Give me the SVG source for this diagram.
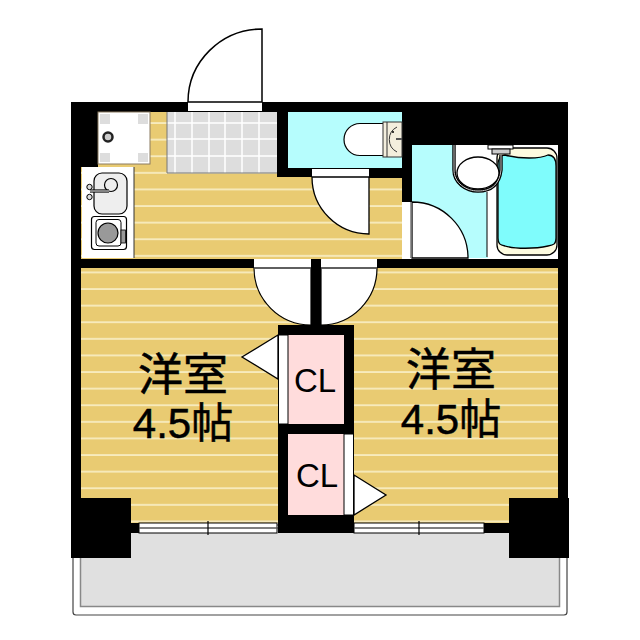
<svg xmlns="http://www.w3.org/2000/svg" width="640" height="640" viewBox="0 0 640 640">
<defs>
<style>
.wall{fill:#000}
.tile{stroke:#fff;stroke-width:1.5;fill:none}
.white{fill:#fff}
.gl{stroke:#555;stroke-width:1.5;fill:none}
.cy{fill:#b6fdfd}
.pink{fill:#ffdcdc}
.jp{font-family:"Noto Sans CJK JP","Liberation Sans",sans-serif;font-size:45px;fill:#000;text-anchor:middle;stroke:#000;stroke-width:.5}
.num{font-family:"Liberation Sans",sans-serif;font-size:42px}
.kan{font-size:42px}
.cl{font-family:"Liberation Sans",sans-serif;font-size:33px;fill:#000;text-anchor:middle}
</style>
<pattern id="stripes" patternUnits="userSpaceOnUse" x="0" y="123" width="20" height="16.6">
<rect width="20" height="16.6" fill="#e9cb72"/>
<rect y="-0.7" width="20" height="1.5" fill="#fbf3cf"/>
<rect y="15.9" width="20" height="1.5" fill="#fbf3cf"/>
</pattern>
</defs>
<rect width="640" height="640" fill="#fff"/>
<g id="balcony">
<rect x="73" y="525" width="494" height="90" rx="3" fill="#fff" stroke="#444" stroke-width="1.2"/>
<rect x="80.500" y="528" width="479" height="78.500" fill="#e0e0e0" stroke="#888" stroke-width="1.500"/>
</g>
<g id="floors">
<rect x="81" y="112" width="321" height="147" fill="url(#stripes)"/>
<rect x="81" y="268" width="477" height="255" fill="url(#stripes)"/>
</g>
<g id="walls" class="wall">
<rect x="71" y="102" width="497" height="10"/>
<rect x="71" y="102" width="10" height="456"/>
<rect x="558" y="102" width="10" height="456"/>
<rect x="71" y="102" width="27" height="65"/>
<rect x="71" y="498" width="60" height="60"/>
<rect x="509" y="498" width="60" height="60"/>
<rect x="71" y="259" width="497" height="9"/>
<rect x="278" y="325" width="76" height="208"/>
<rect x="311" y="259" width="10" height="70"/>
<rect x="277" y="112" width="11" height="64"/>
<rect x="277" y="168" width="125" height="9"/>
<rect x="369" y="168" width="33" height="10"/>
<rect x="402" y="102" width="10" height="100"/>
<rect x="402" y="102" width="166" height="43"/>
<rect x="131" y="523" width="8" height="10"/>
<rect x="484" y="523" width="25" height="10"/>
</g>
<g id="entry">
<rect x="167" y="112" width="110" height="61" fill="#ddd"/>
<path class="tile" d="M175 112V173M192 112V173M209 112V173M225 112V173M242 112V173M259 112V173M167 123H277M167 139H277M167 156H277"/>
<path d="M167 112V173H277" fill="none" stroke="#777" stroke-width="1"/>
<rect x="188" y="102" width="74" height="9" class="white"/>
<path d="M262 102V29A74 73 0 0 0 188 102Z" fill="#fff" stroke="#000" stroke-width="1.500"/>
</g>
<g id="washer">
<rect x="98" y="112" width="52" height="52" fill="#fff" stroke="#8a7a60" stroke-width="1"/>
<rect x="100" y="114" width="10" height="10" fill="#ddd"/>
<rect x="138" y="114" width="10" height="10" fill="#ddd"/>
<rect x="100" y="153" width="10" height="9" fill="#ddd"/>
<rect x="138" y="153" width="10" height="9" fill="#ddd"/>
<circle cx="108" cy="137" r="4.500" fill="#ccc" stroke="#222" stroke-width="2.500"/>
</g>
<g id="kitchen">
<rect x="82" y="167" width="52" height="91" class="white"/>
<path d="M134 167V258" stroke="#333" stroke-width="1"/>
<rect x="94" y="173" width="33" height="41" rx="8" fill="#eee" stroke="#000" stroke-width="1.200"/>
<circle cx="111" cy="185" r="6.500" fill="#eee" stroke="#000" stroke-width="1.200"/>
<path d="M90 191H109" stroke="#000" stroke-width="3.200"/>
<path d="M90 191H109" stroke="#ddd" stroke-width="1.200"/>
<circle cx="89.500" cy="187" r="2.700" fill="#ddd" stroke="#000"/>
<circle cx="89.500" cy="197" r="2.700" fill="#ddd" stroke="#000"/>
<rect x="91.500" y="216.500" width="35" height="33" rx="3" fill="#fff" stroke="#000" stroke-width="1.200"/>
<rect x="96" y="219.500" width="25" height="26.500" rx="3" fill="#fff" stroke="#000" stroke-width="1"/>
<circle cx="108" cy="233" r="10" fill="#999" stroke="#000" stroke-width="1.200"/>
<rect x="121" y="230" width="4.500" height="13" fill="#999" stroke="#000" stroke-width=".8"/>
</g>
<g id="toilet">
<rect class="cy" x="288" y="112" width="114" height="56"/>
<path d="M385 123.500H360A16 16 0 0 0 360 155.500H385Z" fill="#fff" stroke="#000" stroke-width="1.200"/>
<rect x="383" y="122" width="19" height="35" fill="#f3eedd" stroke="#333" stroke-width="1"/>
<path d="M387 122V157" stroke="#333" stroke-width="1"/>
<path d="M397 127A14 14 0 0 0 397 152" fill="none" stroke="#333" stroke-width="1"/>
<path d="M396 139H402" stroke="#555" stroke-width="2"/>
<circle cx="393" cy="132" r="1" fill="#000"/>
<rect x="312" y="169" width="57" height="8" class="white"/>
<path d="M369 177V234A57 57 0 0 1 312 177Z" fill="#fff" stroke="#000" stroke-width="1.300"/>
</g>
<g id="bath">
<rect class="cy" x="412" y="145" width="76" height="113"/>
<path d="M454 145V170C454 183 466 191 478 191C484 191 487 191 487 194V257H558V145Z" fill="#fff"/>
<path d="M487 192V257" stroke="#000" stroke-width="1"/>
<rect x="497" y="148" width="60" height="107" rx="10" fill="#fdfbe0" stroke="#000" stroke-width="1.300"/>
<path d="M498 166C498 158 500 155 505 155C520 159 540 159 548 155C553 155 556 158 556 166V238C556 244 554 245 548 246C535 249 515 249 505 246C500 245 498 244 498 238Z" fill="#7ffcfc" stroke="#000" stroke-width="1.300"/>
<path d="M454 145V170C454 183 466 191 478 191C490 191 499 186 501 170V155" fill="none" stroke="#000" stroke-width="3.400"/>
<path d="M454 145V170C454 183 466 191 478 191C490 191 499 186 501 170V155" fill="none" stroke="#ccc" stroke-width="1"/>
<ellipse cx="478" cy="173" rx="21" ry="16" fill="#fff" stroke="#000" stroke-width="1.300"/>
<rect x="488" y="145" width="25" height="4" fill="#fff" stroke="#000"/>
<rect x="492" y="149" width="18" height="5" fill="#ccc" stroke="#000"/>
<rect x="402" y="202" width="10" height="56" class="white"/>
<path d="M412 202V258H468A56 56 0 0 0 412 202Z" fill="#fff" stroke="#000" stroke-width="1.300"/>
<path d="M411 202V258" stroke="#777" stroke-width="1.500"/>
</g>
<g id="doors">
<rect x="254" y="259" width="57" height="9" class="white"/>
<rect x="321" y="259" width="56" height="9" class="white"/>
<path d="M254 268A57 57 0 0 0 311 325V268Z" fill="#fff" stroke="#000" stroke-width="1.200"/>
<path d="M377 268A56 57 0 0 1 321 325V268Z" fill="#fff" stroke="#000" stroke-width="1.200"/>
<path class="gl" d="M254 268H311M321 268H377"/>
</g>
<g id="cl-upper">
<rect class="pink" x="288" y="335" width="56" height="89"/>
<rect x="278.500" y="335" width="9.500" height="89" fill="#fff" stroke="#000"/>
<path d="M278 335L242 357L278 379Z" fill="#fff" stroke="#000" stroke-width="1.300"/>
<text class="cl" x="315" y="392">CL</text>
</g>
<g id="cl-lower">
<rect class="pink" x="288" y="434" width="56" height="81"/>
<rect x="344" y="434" width="9.500" height="81" fill="#fff" stroke="#000"/>
<path d="M354 475L386 495L354 515Z" fill="#fff" stroke="#000" stroke-width="1.300"/>
<text class="cl" x="317" y="487">CL</text>
</g>
<g id="windows">
<rect x="139" y="523" width="138" height="10" fill="#fff" stroke="#000" stroke-width="1"/>
<path class="gl" d="M139 528H277"/>
<path d="M208 521V535" stroke="#000" stroke-width="1.200"/>
<rect x="354" y="523" width="130" height="10" fill="#fff" stroke="#000" stroke-width="1"/>
<path class="gl" d="M354 528H484"/>
<path d="M419 521V535" stroke="#000" stroke-width="1.200"/>
</g>
<g id="labels">
<text class="jp" x="183" y="391">洋室<tspan x="183" y="438" class="kan"><tspan class="num">4.5</tspan>帖</tspan></text>
<text class="jp" x="451" y="386">洋室<tspan x="451" y="434" class="kan"><tspan class="num">4.5</tspan>帖</tspan></text>
</g>
</svg>
